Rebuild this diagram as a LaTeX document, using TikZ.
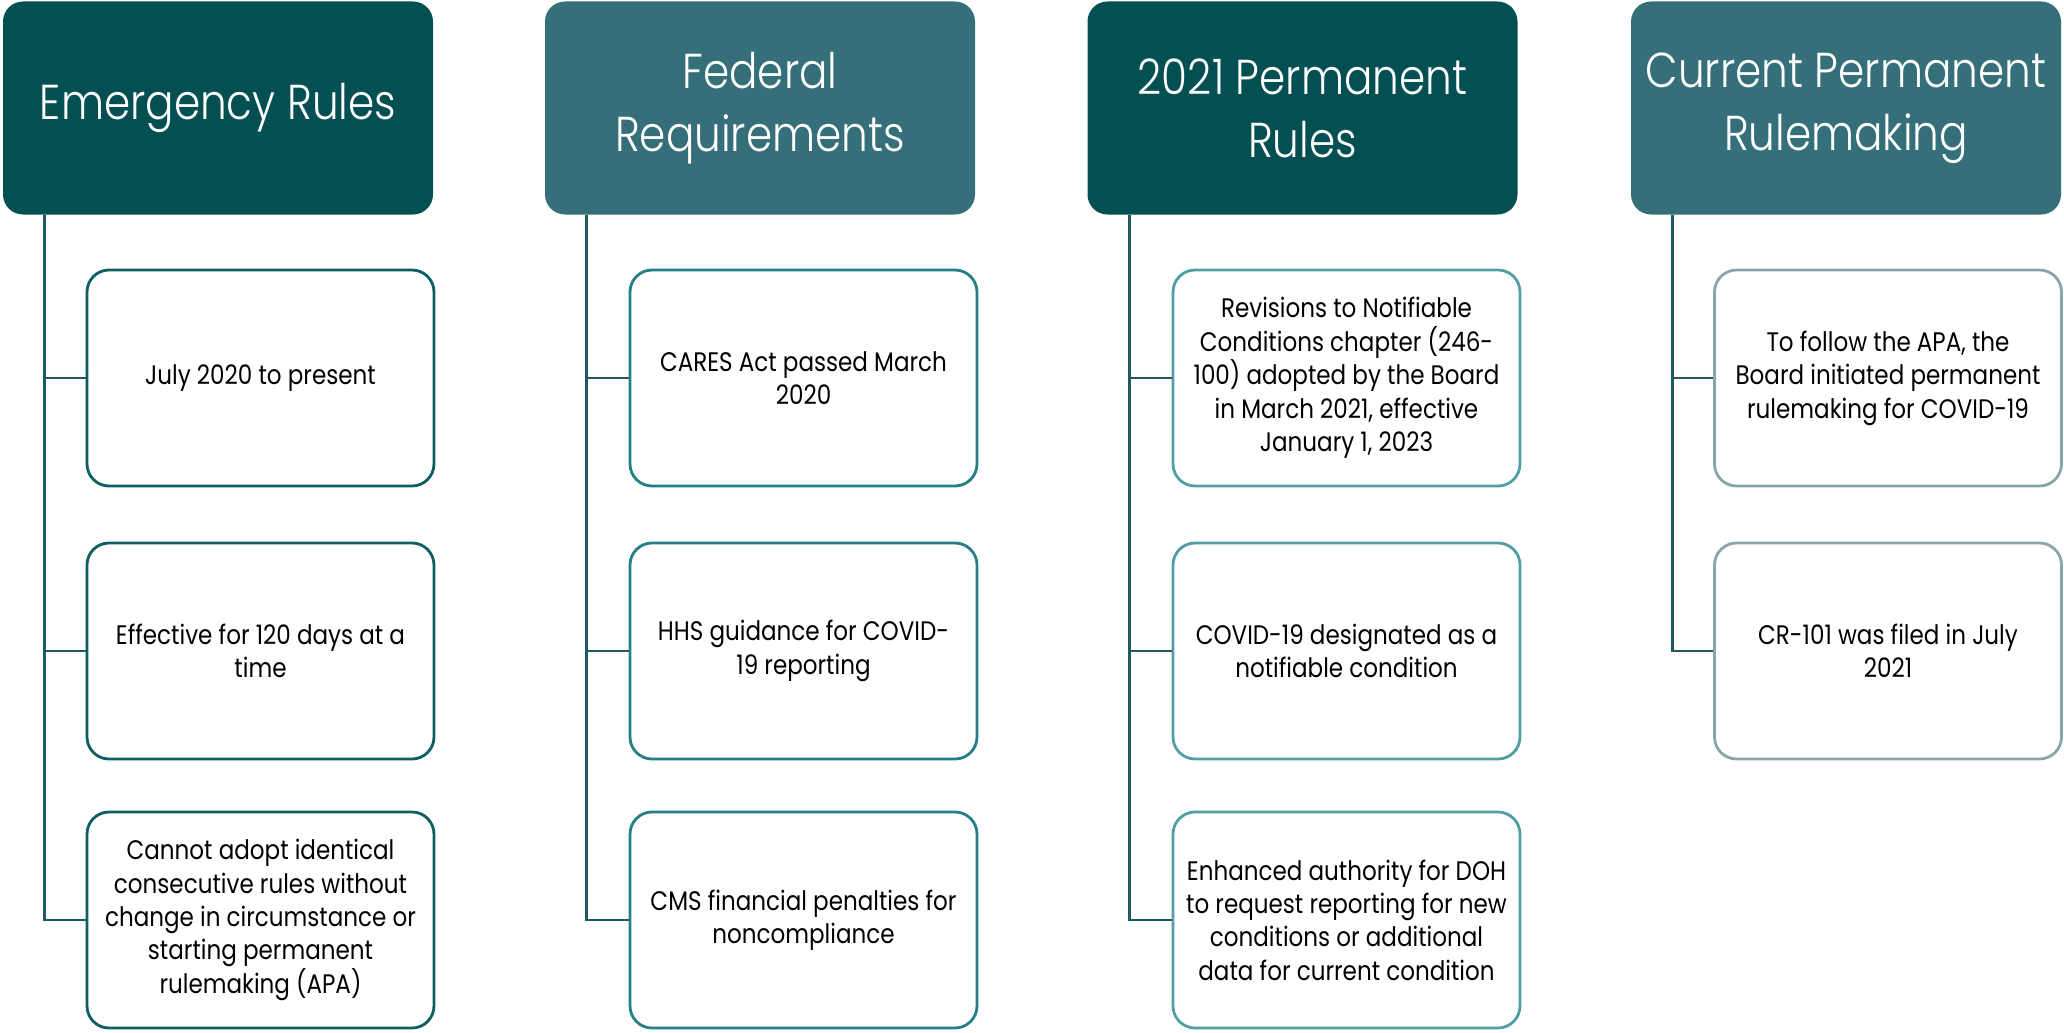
\documentclass[tikz,border=0pt]{standalone}
\usepackage{fontspec}
\setmainfont{Poppins}[FakeStretch=0.86]
\newfontfamily\hdrfont{Poppins Light}[FakeStretch=0.86]
\definecolor{hdark}{RGB}{3,79,82}
\definecolor{hlight}{RGB}{53,111,121}
\definecolor{bA}{RGB}{13,95,99}
\definecolor{bB}{RGB}{38,126,134}
\definecolor{bC}{RGB}{83,158,165}
\definecolor{bD}{RGB}{136,166,169}
\definecolor{spine}{RGB}{30,90,95}
\tikzset{
  hdr/.style={rounded corners=20pt, minimum width=430pt, minimum height=213pt,
    align=center, text=white, inner sep=0pt,
    font=\hdrfont\fontsize{49}{63}\selectfont},
  child/.style={draw, line width=2.8pt, rounded corners=22pt, fill=white,
    minimum width=347pt, minimum height=216pt, align=center, text=black, inner sep=0pt,
    font=\fontsize{26.8}{33.4}\selectfont},
  conn/.style={draw=spine, line width=2.8pt}
}
\begin{document}
\begin{tikzpicture}[x=1pt,y=-1pt]
\useasboundingbox (0,0) rectangle (2064,1033);
% headers
\node[hdr, fill=hdark] (h1) at (218,108) {Emergency Rules};
\node[hdr, fill=hlight] (h2) at (760,108) {Federal\\Requirements};
\node[hdr, fill=hdark] (h3) at (1302.5,108) {2021 Permanent\\Rules};
\node[hdr, fill=hlight] (h4) at (1846,108) {Current Permanent\\Rulemaking};
% spine coordinates
\coordinate (s1) at ([xshift=42pt]h1.south west);
\coordinate (s2) at ([xshift=42pt]h2.south west);
\coordinate (s3) at ([xshift=42pt]h3.south west);
\coordinate (s4) at ([xshift=42pt]h4.south west);
% column 1
\node[child, draw=bA] (c11) at (260.5,378) {July 2020 to present};
\node[child, draw=bA] (c12) at (260.5,651) {Effective for 120 days at a\\time};
\node[child, draw=bA] (c13) at (260.5,920) {Cannot adopt identical\\consecutive rules without\\change in circumstance or\\starting permanent\\rulemaking (APA)};
% column 2
\node[child, draw=bB] (c21) at (803.5,378) {CARES Act passed March\\2020};
\node[child, draw=bB] (c22) at (803.5,651) {HHS guidance for COVID-\\19 reporting};
\node[child, draw=bB] (c23) at (803.5,920) {CMS financial penalties for\\noncompliance};
% column 3
\node[child, draw=bC] (c31) at (1346.5,378) {Revisions to Notifiable\\Conditions chapter (246-\\100) adopted by the Board\\in March 2021, effective\\January 1, 2023};
\node[child, draw=bC] (c32) at (1346.5,651) {COVID-19 designated as a\\notifiable condition};
\node[child, draw=bC] (c33) at (1346.5,920) {Enhanced authority for DOH\\to request reporting for new\\conditions or additional\\data for current condition};
% column 4
\node[child, draw=bD] (c41) at (1888,378) {To follow the APA, the\\Board initiated permanent\\rulemaking for COVID-19};
\node[child, draw=bD] (c42) at (1888,651) {CR-101 was filed in July\\2021};
% branches
\draw[conn] (s1) |- (c11.west);
\draw[conn] (s1) |- (c12.west);
\draw[conn] (s1) |- (c13.west);
\draw[conn] (s2) |- (c21.west);
\draw[conn] (s2) |- (c22.west);
\draw[conn] (s2) |- (c23.west);
\draw[conn] (s3) |- (c31.west);
\draw[conn] (s3) |- (c32.west);
\draw[conn] (s3) |- (c33.west);
\draw[conn] (s4) |- (c41.west);
\draw[conn] (s4) |- (c42.west);
\end{tikzpicture}
\end{document}
